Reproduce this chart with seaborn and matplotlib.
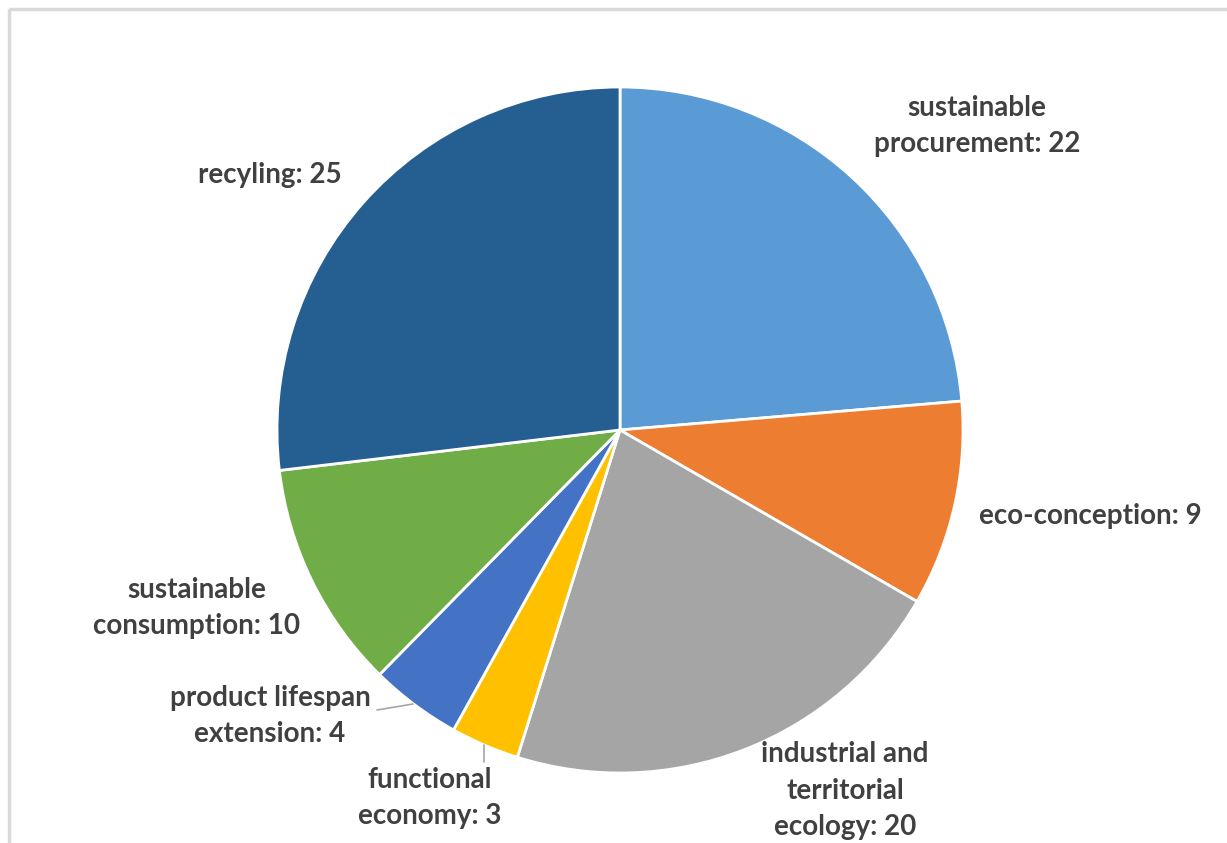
import matplotlib
matplotlib.use('Agg')
import matplotlib.pyplot as plt
import matplotlib.patches as mpatches
import seaborn as sns

# data
categories = ['sustainable\nprocurement', 'eco-conception', 'industrial and\nterritorial\necology',
              'functional\neconomy', 'product lifespan\nextension', 'sustainable\nconsumption', 'recyling']
counts = [22, 9, 20, 3, 4, 10, 25]
colors = ['#5B9BD5', '#ED7D31', '#A5A5A5', '#FFC000', '#4472C4', '#70AD47', '#255E91']

# label centres in pixel coordinates of the figure
label_pos = [(977, 126), (1090, 516), (845, 791), (430, 798), (270, 716), (197, 608), (270, 175)]

sns.set_theme(style='white')
plt.rcParams['font.family'] = ['Lato', 'DejaVu Sans']

W, H = 1227, 843
fig = plt.figure(figsize=(W / 100, H / 100), dpi=100)
ax = fig.add_axes([0, 0, 1, 1])

# y axis is inverted below, so counterclock=True draws clockwise on screen; start at top
wedges, _ = ax.pie(counts, colors=colors, startangle=-90, counterclock=True,
                   center=(620, 430), radius=343,
                   wedgeprops=dict(edgecolor='white', linewidth=2))

ax.set_xlim(0, W)
ax.set_ylim(H, 0)
ax.set_aspect('equal')
ax.axis('off')

# chart frame (cut off at right and bottom)
ax.add_patch(mpatches.Rectangle((9, 9), W + 50, H + 50, fill=False,
                                edgecolor='#D9D9D9', linewidth=2.5))

for cat, n, (x, y) in zip(categories, counts, label_pos):
    ax.text(x, y, f'{cat}: {n}', ha='center', va='center', fontsize=20,
            fontweight='bold', color='#404040', linespacing=1.5)

# leader lines for the two small slices
ax.plot([377, 413], [710, 704], color='#A6A6A6', linewidth=1.2)
ax.plot([484, 484], [745, 762], color='#A6A6A6', linewidth=1.2)

fig.savefig('out.png', dpi=100)
